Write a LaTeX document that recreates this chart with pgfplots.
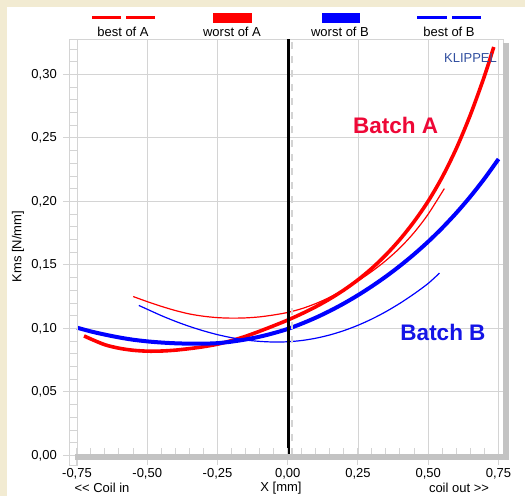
\documentclass[border=0pt]{standalone}
\usepackage{pgfplots}
\pgfplotsset{compat=1.18}
\usepackage{fontspec}
\setmainfont{Liberation Sans}
\definecolor{bg}{RGB}{242,235,210}
\definecolor{gridc}{RGB}{212,212,212}
\definecolor{shadow}{RGB}{195,195,195}
\definecolor{batchA}{RGB}{238,8,55}
\definecolor{batchB}{RGB}{20,20,230}
\definecolor{klip}{RGB}{50,80,160}
\newcommand{\tf}{\fontsize{13}{15}\selectfont}
\begin{document}
\begin{tikzpicture}[x=1pt,y=1pt]
\useasboundingbox (0,0) rectangle (525,496);
\fill[bg] (0,0) rectangle (525,496);
\fill[white] (7,0) rectangle (525,489);
\begin{axis}[
  at={(77pt,40.7pt)}, anchor=south west,
  scale only axis, width=426.6pt, height=416.3pt,
  xmin=-0.75, xmax=0.768, ymin=0, ymax=0.3278,
  xtick={-0.75,-0.5,-0.25,0,0.25,0.5,0.75},
  ytick={0,0.05,0.1,0.15,0.2,0.25,0.3},
  grid=major, major grid style={draw=gridc, line width=0.9pt},
  axis line style={draw=gridc, line width=0.9pt},
  major tick length=0pt,
  tick label style={font=\tf},
  yticklabel style={anchor=east, inner sep=0pt, xshift=-20pt},
  xticklabel style={anchor=north, inner sep=0pt, yshift=-13.2pt},
  /pgf/number format/use comma,
  /pgf/number format/fixed,
  /pgf/number format/fixed zerofill,
  /pgf/number format/precision=2,
  /pgf/number format/assume math mode=true,
  clip=false,
]
% best of A
\addplot[red, line width=1.2pt, smooth] coordinates {
(-0.55,0.1250) (-0.50,0.1210) (-0.45,0.1173) (-0.40,0.1140) (-0.35,0.1113)
(-0.30,0.1095) (-0.25,0.1084) (-0.20,0.1080) (-0.15,0.1082) (-0.10,0.1090)
(-0.05,0.1105) (0.00,0.1125) (0.05,0.1155) (0.10,0.1195) (0.15,0.1245)
(0.20,0.1305) (0.25,0.1373) (0.30,0.1449) (0.35,0.1535) (0.40,0.1635)
(0.45,0.1755) (0.50,0.1900) (0.557,0.2100)};
% worst of A
\addplot[red, line width=3.6pt, smooth] coordinates {
(-0.725,0.0940) (-0.70,0.0915) (-0.65,0.0870) (-0.60,0.0843) (-0.55,0.0827)
(-0.50,0.0820) (-0.45,0.0821) (-0.40,0.0828) (-0.35,0.0840) (-0.30,0.0855)
(-0.25,0.0875) (-0.20,0.0903) (-0.15,0.0937) (-0.10,0.0977) (-0.05,0.1020)
(0.00,0.1065) (0.05,0.1115) (0.10,0.1170) (0.15,0.1232) (0.20,0.1302)
(0.25,0.1382) (0.30,0.1474) (0.35,0.1580) (0.40,0.1702) (0.45,0.1842)
(0.50,0.2002) (0.55,0.2192) (0.60,0.2417) (0.65,0.2682) (0.70,0.2987) (0.733,0.3215)};
% worst of B
\addplot[blue, line width=4pt, smooth] coordinates {
(-0.75,0.1005) (-0.70,0.0975) (-0.65,0.0950) (-0.60,0.0928) (-0.55,0.0910)
(-0.50,0.0897) (-0.45,0.0888) (-0.40,0.0882) (-0.35,0.0879) (-0.30,0.0879)
(-0.25,0.0883) (-0.20,0.0895) (-0.15,0.0912) (-0.10,0.0934) (-0.05,0.0962)
(0.00,0.0995) (0.05,0.1037) (0.10,0.1084) (0.15,0.1137) (0.20,0.1196)
(0.25,0.1261) (0.30,0.1332) (0.35,0.1409) (0.40,0.1493) (0.45,0.1584)
(0.50,0.1683) (0.55,0.1791) (0.60,0.1909) (0.65,0.2038) (0.70,0.2179) (0.75,0.2333)};
% best of B
\addplot[blue, line width=1.2pt, smooth] coordinates {
(-0.53,0.1180) (-0.50,0.1150) (-0.45,0.1100) (-0.40,0.1055) (-0.35,0.1015)
(-0.30,0.0980) (-0.25,0.0950) (-0.20,0.0926) (-0.15,0.0908) (-0.10,0.0897)
(-0.05,0.0892) (0.00,0.0894) (0.05,0.0904) (0.10,0.0922) (0.15,0.0948)
(0.20,0.0982) (0.25,0.1024) (0.30,0.1074) (0.35,0.1132) (0.40,0.1198)
(0.45,0.1272) (0.50,0.1354) (0.54,0.1435)};
\draw[gridc, line width=2pt, dash pattern=on 7pt off 7pt] (axis cs:0.0135,0) -- (axis cs:0.0135,0.3278);
\draw[black, line width=3pt] (axis cs:0.003,0) -- (axis cs:0.003,0.3278);
\end{axis}
% ladder on left
\draw[gridc, line width=0.8pt] (69,31) rectangle (77,457);
\foreach \i in {1,...,32} \draw[gridc, line width=0.7pt] (69,{40.7+\i*12.7}) -- (77,{40.7+\i*12.7});
\foreach \i in {0,...,6} \draw[gridc, line width=0.9pt] (63,{40.7+\i*63.5}) -- (77,{40.7+\i*63.5});
% shadows
\fill[shadow] (503,36) rectangle (509,453);
\fill[shadow] (75,36) rectangle (509,42);
\foreach \i in {0,...,30} \draw[gridc, line width=0.8pt] ({76.7+\i*14.05},42) -- ({76.7+\i*14.05},48);
\foreach \i in {0,...,6} \draw[gridc, line width=0.8pt] ({76.7+\i*70.25},31) -- ({76.7+\i*70.25},36);
% legend
\draw[red, line width=2.7pt] (92,478.7) -- (121,478.7);
\draw[red, line width=2.7pt] (126,478.7) -- (155,478.7);
\fill[red] (213,473) rectangle (252,483);
\fill[blue] (322,473) rectangle (360,483);
\draw[blue, line width=2.7pt] (417,478.7) -- (447,478.7);
\draw[blue, line width=2.7pt] (452,478.7) -- (481,478.7);
\node[font=\tf] at (123,464.3) {best of A};
\node[font=\tf] at (232,464.3) {worst of A};
\node[font=\tf] at (340,464.3) {worst of B};
\node[font=\tf] at (449,464.3) {best of B};
% labels
\node[font=\tf, rotate=90] at (18,249.3) {Kms [N/mm]};
\node[font=\tf] at (281,8) {X [mm]};
\node[font=\tf] at (102,8) {<{}< Coil in};
\node[font=\tf] at (459,8) {coil out >{}>};
\node[font=\bfseries\fontsize{22.5}{26}\selectfont, text=batchA] at (395.7,371) {Batch A};
\node[font=\bfseries\fontsize{22.5}{26}\selectfont, text=batchB] at (443,164) {Batch B};
\node[font=\tf, text=klip] at (470.5,437.5) {KLIPPEL};
\end{tikzpicture}
\end{document}
